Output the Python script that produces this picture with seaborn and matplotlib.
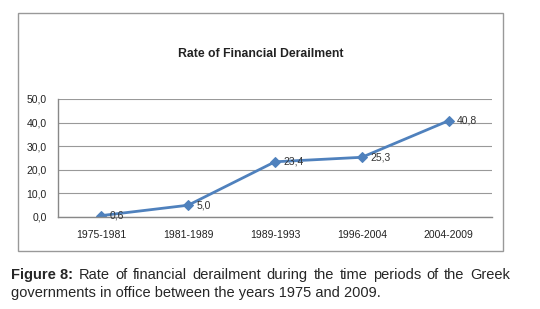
import matplotlib
matplotlib.use('Agg')
import matplotlib.pyplot as plt
import seaborn as sns
import pandas as pd
from matplotlib.patches import Rectangle

periods = ['1975-1981', '1981-1989', '1989-1993', '1996-2004', '2004-2009']
rates = [0.6, 5.0, 23.4, 25.3, 40.8]
rate_labels = ['0,6', '5,0', '23,4', '25,3', '40,8']
yticks = [0, 10, 20, 30, 40, 50]
ytick_labels = ['0,0', '10,0', '20,0', '30,0', '40,0', '50,0']

sns.set_style('white')
plt.rcParams['font.family'] = ['Liberation Sans', 'DejaVu Sans']

df = pd.DataFrame({'period': periods, 'rate': rates})

fig = plt.figure(figsize=(5.4, 3.09), dpi=100)
ax = fig.add_axes([58 / 540, 1 - 217 / 309, 434 / 540, 118 / 309])

blue = '#4F81BD'
sns.lineplot(data=df, x='period', y='rate', ax=ax, color=blue, linewidth=2,
             marker='D', markersize=5.5, markeredgecolor=blue)

for i, (v, lab) in enumerate(zip(rates, rate_labels)):
    ax.annotate(lab, (i, v), xytext=(6, 0), textcoords='offset points',
                fontsize=7.5, va='center', ha='left', color='#333333')

ax.set_xlim(-0.5, len(periods) - 0.5)
ax.set_ylim(0, 50)
ax.set_yticks(yticks)
ax.set_yticklabels(ytick_labels, fontsize=7.5, color='#222222')
ax.set_xticks(range(len(periods)))
ax.set_xticklabels(periods, fontsize=7.5, color='#222222')
ax.set_xticks([i - 0.5 for i in range(len(periods) + 1)], minor=True)
ax.tick_params(axis='x', which='major', length=0, pad=9)
ax.tick_params(axis='x', which='minor', length=3, color='#888888', direction='out')
ax.tick_params(axis='y', length=3, color='#888888', direction='out', pad=5)
ax.yaxis.grid(True, color='#999999', linewidth=0.8)
ax.set_xlabel('')
ax.set_ylabel('')
for s in ['top', 'right']:
    ax.spines[s].set_visible(False)
for s in ['left', 'bottom']:
    ax.spines[s].set_color('#888888')
    ax.spines[s].set_linewidth(1)
ax.set_axisbelow(True)

fig.text(261 / 540, 1 - 54 / 309, 'Rate of Financial Derailment', ha='center', va='center',
         fontsize=8.8, fontweight='bold', color='#222222')

# chart frame
fig.patches.append(Rectangle((18 / 540, 1 - 251 / 309), 485 / 540, 238 / 309,
                             transform=fig.transFigure, fill=False,
                             edgecolor='#999999', linewidth=1))

# caption, first line justified between x=11 and x=510
cap_size = 10.5
y1 = 1 - 275 / 309
words = ['Figure 8:'] + 'Rate of financial derailment during the time periods of the Greek'.split()
fig.canvas.draw()
renderer = fig.canvas.get_renderer()
texts = []
for k, w in enumerate(words):
    t = fig.text(0, y1, w, fontsize=cap_size, va='center', ha='left',
                 fontweight='bold' if k == 0 else 'normal')
    texts.append(t)
widths = [t.get_window_extent(renderer).width for t in texts]
gap = (499 - sum(widths)) / (len(words) - 1)
x = 11
for t, w in zip(texts, widths):
    t.set_x(x / 540)
    x += w + gap
fig.text(11 / 540, 1 - 293 / 309,
         'governments in office between the years 1975 and 2009.',
         fontsize=cap_size, va='center', ha='left')

fig.savefig('out.png', dpi=100, facecolor='white')
